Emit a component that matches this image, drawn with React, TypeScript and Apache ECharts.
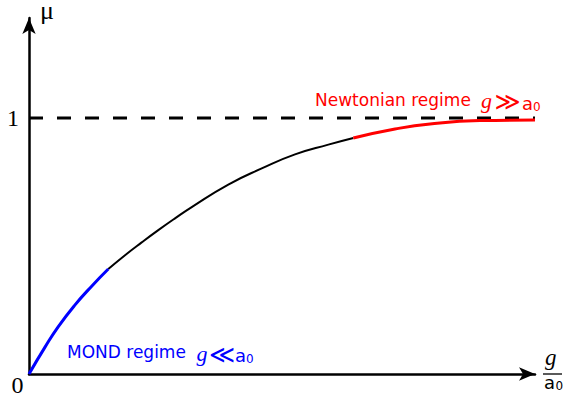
import React, { useEffect, useRef } from "react";
import * as echarts from "echarts";

// g / a0 positions
const xs = [0, 0.315, 0.577, 0.906, 1.234, 1.561, 1.89, 2.218, 2.545, 2.874, 3.203, 3.923, 4.581, 5.236, 5.892, 6.384, 7.205, 7.894, 8.878, 9.96];
// mu values
const mus = [0, 0.105, 0.185, 0.27, 0.343, 0.41, 0.464, 0.514, 0.562, 0.608, 0.652, 0.74, 0.803, 0.858, 0.896, 0.922, 0.957, 0.977, 0.99, 0.992];
const blueEnd = 5; // MOND regime ends
const redStart = 15; // Newtonian regime starts
const dashX = [0, 9.96];
const dashY = [1, 1];
const yTicks = [0, 1];

const pts = (a: number, b: number) => xs.slice(a, b + 1).map((x, i) => [x, mus[a + i]]);

export default function App() {
  const ref = useRef<HTMLDivElement>(null);
  useEffect(() => {
    const chart = echarts.init(ref.current!, null, { renderer: "svg" });
    const serif = "Liberation Serif";
    const sans = "DejaVu Sans";
    const t = (text: string, x: number, y: number, size: number, family: string, fill: string, italic = false) => ({
      type: "text",
      x,
      y,
      style: {
        text,
        fontSize: size,
        fontFamily: family,
        fontStyle: italic ? "italic" : "normal",
        fill,
        verticalAlign: "middle",
      },
    });
    const lineSeries = (data: number[][], color: string, width: number) => ({
      type: "line",
      data,
      showSymbol: false,
      smooth: 0.5,
      clip: false,
      lineStyle: { color, width },
    });
    chart.setOption({
      animation: false,
      grid: { left: 29, top: 18, right: 34, bottom: 22 },
      xAxis: {
        type: "value",
        min: 0,
        max: 9.96,
        axisLine: { show: true, symbol: ["none", "arrow"], symbolSize: [10, 16], lineStyle: { color: "#000", width: 2.5 } },
        axisTick: { show: false },
        axisLabel: { show: false },
        splitLine: { show: false },
      },
      yAxis: {
        type: "value",
        min: 0,
        max: 356 / 256,
        interval: 1,
        axisLine: { show: true, symbol: ["none", "arrow"], symbolSize: [10, 16], lineStyle: { color: "#000", width: 2.5 } },
        axisTick: { show: false },
        splitLine: { show: false },
        axisLabel: {
          margin: 10,
          fontFamily: serif,
          fontSize: 24,
          color: "#000",
          formatter: (v: number) => (v === yTicks[1] ? String(v) : ""),
        },
      },
      series: [
        {
          type: "line",
          data: dashX.map((x, i) => [x, dashY[i]]),
          showSymbol: false,
          clip: false,
          lineStyle: { color: "#000", width: 3, type: [14, 14] },
        },
        lineSeries(pts(blueEnd, redStart), "#000", 2),
        lineSeries(pts(0, blueEnd), "#0000ff", 3),
        lineSeries(pts(redStart, xs.length - 1), "#ff0000", 3),
      ],
      graphic: [
        t("μ", 40, 10.5, 26, serif, "#000"),
        t("0", 11.5, 384.5, 24, serif, "#000"),
        // x-axis fraction label
        t("g", 545, 357, 23, serif, "#000", true),
        { type: "line", shape: { x1: 543, y1: 374, x2: 562, y2: 374 }, style: { stroke: "#000", lineWidth: 1.3 } },
        t("a", 544, 382.5, 18, sans, "#000"),
        t("0", 555.5, 386, 12, sans, "#000"),
        // Newtonian label
        t("Newtonian regime", 315, 99.6, 17, sans, "#ff0000"),
        t("g", 481, 100.5, 22, serif, "#ff0000", true),
        t("≫", 494.5, 101.5, 25, sans, "#ff0000"),
        t("a", 522, 103, 18, sans, "#ff0000"),
        t("0", 533, 106.8, 12, sans, "#ff0000"),
        // MOND label
        t("MOND regime", 67, 352.1, 17, sans, "#0000ff"),
        t("g", 196.5, 353, 22, serif, "#0000ff", true),
        t("≪", 209, 354, 25, sans, "#0000ff"),
        t("a", 235, 355.5, 18, sans, "#0000ff"),
        t("0", 246, 359.2, 12, sans, "#0000ff"),
      ],
    });
    return () => chart.dispose();
  }, []);
  return <div ref={ref} style={{ position: "fixed", left: 0, top: 0, width: 569, height: 396, background: "#fff" }} />;
}
